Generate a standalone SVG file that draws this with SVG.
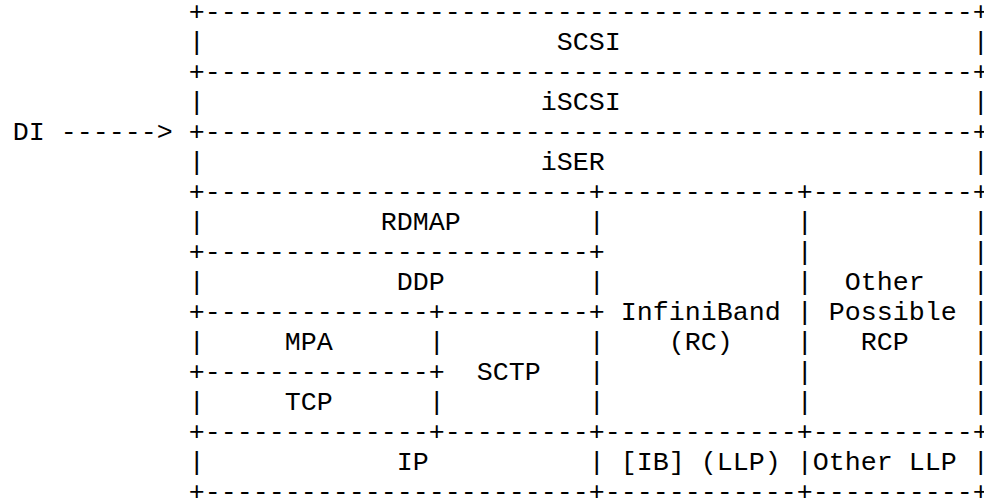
<svg xmlns="http://www.w3.org/2000/svg" width="984" height="500" viewBox="0 0 984 500">
<style>
text { font-family: "Liberation Mono", "Courier New", monospace; font-size: 26.667px; fill: #000; white-space: pre; }
</style>
<rect width="984" height="500" fill="#fff"/>
<g id="frame">
<text y="20"><tspan x="188.7">+</tspan><tspan x="204.7">------------</tspan><tspan x="396.7">------------</tspan><tspan x="588.7">------------</tspan><tspan x="780.7">------------</tspan><tspan x="972.7">+</tspan></text>
<text y="50"><tspan x="188.7">|</tspan><tspan x="972.7">|</tspan></text>
<text y="80"><tspan x="188.7">+</tspan><tspan x="204.7">------------</tspan><tspan x="396.7">------------</tspan><tspan x="588.7">------------</tspan><tspan x="780.7">------------</tspan><tspan x="972.7">+</tspan></text>
<text y="110"><tspan x="188.7">|</tspan><tspan x="972.7">|</tspan></text>
<text y="140"><tspan x="188.7">+</tspan><tspan x="204.7">------------</tspan><tspan x="396.7">------------</tspan><tspan x="588.7">------------</tspan><tspan x="780.7">------------</tspan><tspan x="972.7">+</tspan></text>
<text y="170"><tspan x="188.7">|</tspan><tspan x="972.7">|</tspan></text>
<text y="200"><tspan x="188.7">+</tspan><tspan x="204.7">------------</tspan><tspan x="396.7">------------</tspan><tspan x="588.7">+</tspan><tspan x="604.7">------------</tspan><tspan x="796.7">+</tspan><tspan x="812.7">----------</tspan><tspan x="972.7">+</tspan></text>
<text y="230"><tspan x="188.7">|</tspan><tspan x="588.7">|</tspan><tspan x="796.7">|</tspan><tspan x="972.7">|</tspan></text>
<text y="260"><tspan x="188.7">+</tspan><tspan x="204.7">------------</tspan><tspan x="396.7">------------</tspan><tspan x="588.7">+</tspan><tspan x="796.7">|</tspan><tspan x="972.7">|</tspan></text>
<text y="290"><tspan x="188.7">|</tspan><tspan x="588.7">|</tspan><tspan x="796.7">|</tspan><tspan x="972.7">|</tspan></text>
<text y="320"><tspan x="188.7">+</tspan><tspan x="204.7">--------------</tspan><tspan x="428.7">+</tspan><tspan x="444.7">---------</tspan><tspan x="588.7">+</tspan><tspan x="796.7">|</tspan><tspan x="972.7">|</tspan></text>
<text y="350"><tspan x="188.7">|</tspan><tspan x="428.7">|</tspan><tspan x="588.7">|</tspan><tspan x="796.7">|</tspan><tspan x="972.7">|</tspan></text>
<text y="380"><tspan x="188.7">+</tspan><tspan x="204.7">--------------</tspan><tspan x="428.7">+</tspan><tspan x="588.7">|</tspan><tspan x="796.7">|</tspan><tspan x="972.7">|</tspan></text>
<text y="410"><tspan x="188.7">|</tspan><tspan x="428.7">|</tspan><tspan x="588.7">|</tspan><tspan x="796.7">|</tspan><tspan x="972.7">|</tspan></text>
<text y="440"><tspan x="188.7">+</tspan><tspan x="204.7">--------------</tspan><tspan x="428.7">+</tspan><tspan x="444.7">---------</tspan><tspan x="588.7">+</tspan><tspan x="604.7">------------</tspan><tspan x="796.7">+</tspan><tspan x="812.7">----------</tspan><tspan x="972.7">+</tspan></text>
<text y="470"><tspan x="188.7">|</tspan><tspan x="588.7">|</tspan><tspan x="796.7">|</tspan><tspan x="972.7">|</tspan></text>
<text y="500"><tspan x="188.7">+</tspan><tspan x="204.7">------------</tspan><tspan x="396.7">------------</tspan><tspan x="588.7">+</tspan><tspan x="604.7">------------</tspan><tspan x="796.7">+</tspan><tspan x="812.7">----------</tspan><tspan x="972.7">+</tspan></text>
</g>
<g id="connectors">
<text x="12.7" y="140">DI ------&gt;</text>
</g>
<g id="scsi"><text x="556.7" y="50">SCSI</text></g>
<g id="iscsi"><text x="540.7" y="110">iSCSI</text></g>
<g id="iser"><text x="540.7" y="170">iSER</text></g>
<g id="rdmap"><text x="380.7" y="230">RDMAP</text></g>
<g id="ddp"><text x="396.7" y="290">DDP</text></g>
<g id="mpa"><text x="284.7" y="350">MPA</text></g>
<g id="tcp"><text x="284.7" y="410">TCP</text></g>
<g id="sctp"><text x="476.7" y="380">SCTP</text></g>
<g id="infiniband"><text x="620.7" y="320">InfiniBand</text><text x="668.7" y="350">(RC)</text></g>
<g id="other-rcp"><text x="844.7" y="290">Other</text><text x="828.7" y="320">Possible</text><text x="860.7" y="350">RCP</text></g>
<g id="ip"><text x="396.7" y="470">IP</text></g>
<g id="ib-llp"><text x="620.7" y="470">[IB] (LLP)</text></g>
<g id="other-llp"><text x="812.7" y="470">Other LLP</text></g>
</svg>
